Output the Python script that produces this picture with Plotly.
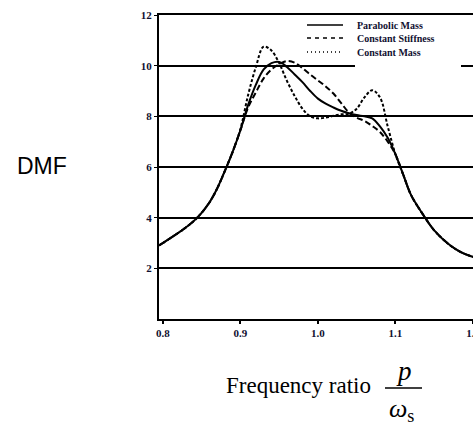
import plotly.graph_objects as go

freq = [0.795, 0.815, 0.83, 0.845, 0.86, 0.87, 0.88, 0.89, 0.9, 0.91, 0.92, 0.93,
        0.94, 0.95, 0.96, 0.97, 0.98, 0.99, 1.0, 1.01, 1.02, 1.03, 1.04, 1.05,
        1.06, 1.07, 1.08, 1.09, 1.1, 1.11, 1.12, 1.135, 1.15, 1.17, 1.185, 1.2]

parabolic_mass = [2.9, 3.3, 3.62, 4.02, 4.6, 5.15, 5.85, 6.6, 7.45, 8.45, 9.25, 9.85,
                  10.1, 10.15, 9.95, 9.65, 9.35, 9.0, 8.7, 8.5, 8.35, 8.22, 8.12, 8.05,
                  8.0, 7.92, 7.6, 7.15, 6.5, 5.7, 4.9, 4.15, 3.5, 2.92, 2.63, 2.45]

constant_stiffness = [2.9, 3.3, 3.62, 4.02, 4.6, 5.15, 5.85, 6.6, 7.45, 8.35, 8.95, 9.5,
                      9.85, 10.05, 10.18, 10.12, 9.9, 9.65, 9.42, 9.18, 8.9, 8.52, 8.15, 7.95,
                      7.82, 7.62, 7.38, 7.0, 6.5, 5.7, 4.9, 4.15, 3.5, 2.92, 2.63, 2.45]

constant_mass = [2.9, 3.3, 3.62, 4.02, 4.6, 5.15, 5.85, 6.6, 7.5, 8.85, 9.95, 10.75,
                 10.6, 10.1, 9.4, 8.8, 8.3, 8.0, 7.92, 7.95, 8.02, 8.08, 8.1, 8.3,
                 8.75, 9.03, 8.75, 7.6, 6.5, 5.7, 4.9, 4.15, 3.5, 2.92, 2.63, 2.45]

series_names = ["Parabolic Mass", "Constant Stiffness", "Constant Mass"]

x_ticks = [0.8, 0.9, 1.0, 1.1, 1.2]
x_tick_labels = ["0.8", "0.9", "1.0", "1.1", "1.2"]
y_ticks = [2, 4, 6, 8, 10, 12]
y_tick_labels = ["2", "4", "6", "8", "10", "12"]

W, H = 473, 423
L, R, T, B = 159, 0, 15, 104
pw, ph = W - L - R, H - T - B

def px(x):
    return (x - L) / pw

def py(y):
    return (H - B - y) / ph

serif = "Liberation Serif"
curve_dashes = ["solid", "6px,3px", "3px,2px"]
key_dashes = ["solid", "4px,4px", "1px,3px"]

fig = go.Figure()
for name, vals, dash in zip(series_names,
                            [parabolic_mass, constant_stiffness, constant_mass],
                            curve_dashes):
    fig.add_trace(go.Scatter(x=freq, y=vals, mode="lines", name=name,
                             showlegend=False,
                             line=dict(color="black", width=2, dash=dash,
                                       shape="spline", smoothing=1.0)))

fig.update_layout(
    width=W, height=H,
    margin=dict(l=L, r=R, t=T, b=B, autoexpand=False),
    paper_bgcolor="white", plot_bgcolor="white",
    xaxis=dict(range=[0.795, 1.2], tickvals=x_ticks, ticktext=x_tick_labels,
               showgrid=False, zeroline=False, showline=True, linecolor="black",
               linewidth=2, mirror=True, ticks="outside", ticklen=3, tickwidth=2,
               tickcolor="black", automargin=False, ticklabeloverflow="allow",
               tickfont=dict(family=serif, size=11, color="#101030", weight="bold")),
    yaxis=dict(range=[0, 12], tickvals=y_ticks, ticktext=y_tick_labels,
               showgrid=True, gridcolor="black", gridwidth=1.5, zeroline=False,
               showline=True, linecolor="black", linewidth=2, ticks="outside",
               ticklen=3, tickwidth=1, tickcolor="black", automargin=False,
               tickfont=dict(family=serif, size=11, color="#101030", weight="bold")),
    font=dict(family=serif, color="black"),
)

# key box in the upper right (white background over the 10 gridline)
fig.add_shape(type="rect", xref="paper", yref="paper",
              x0=px(355), x1=px(461), y0=py(68), y1=py(60),
              fillcolor="white", line=dict(width=0), layer="above")
legend_rows = [25, 38, 52]
for name, dash, ry in zip(series_names, key_dashes, legend_rows):
    fig.add_shape(type="line", xref="paper", yref="paper",
                  x0=px(307), x1=px(343), y0=py(ry), y1=py(ry),
                  line=dict(color="black", width=1.5, dash=dash))
    fig.add_annotation(text=name, xref="paper", yref="paper", x=px(355), y=py(ry),
                       showarrow=False, xanchor="left", yanchor="middle",
                       font=dict(family=serif, size=10, color="#101030", weight="bold"))

fig.add_annotation(text="DMF", xref="paper", yref="paper", x=px(42), y=py(166),
                   showarrow=False, xanchor="center", yanchor="middle",
                   font=dict(family="Liberation Sans", size=23, color="black"))
fig.add_annotation(text="Frequency ratio", xref="paper", yref="paper",
                   x=px(298), y=py(385), showarrow=False, xanchor="center",
                   yanchor="middle", font=dict(family=serif, size=23, color="black"))
fig.add_annotation(text="<i>p</i>", xref="paper", yref="paper",
                   x=px(404), y=py(371), showarrow=False, xanchor="center",
                   yanchor="middle", font=dict(family=serif, size=27, color="black"))
fig.add_annotation(text="<i>ω</i><sub>s</sub>", xref="paper", yref="paper",
                   x=px(401), y=py(410), showarrow=False, xanchor="center",
                   yanchor="middle", font=dict(family=serif, size=26, color="black"))
fig.add_shape(type="line", xref="paper", yref="paper",
              x0=px(385), x1=px(422), y0=py(388), y1=py(388),
              line=dict(color="black", width=1.5))

fig.write_html("out.html",
               config={"displayModeBar": False},
               post_script="document.body.style.margin='0';"
                           "document.body.style.overflow='hidden';")
